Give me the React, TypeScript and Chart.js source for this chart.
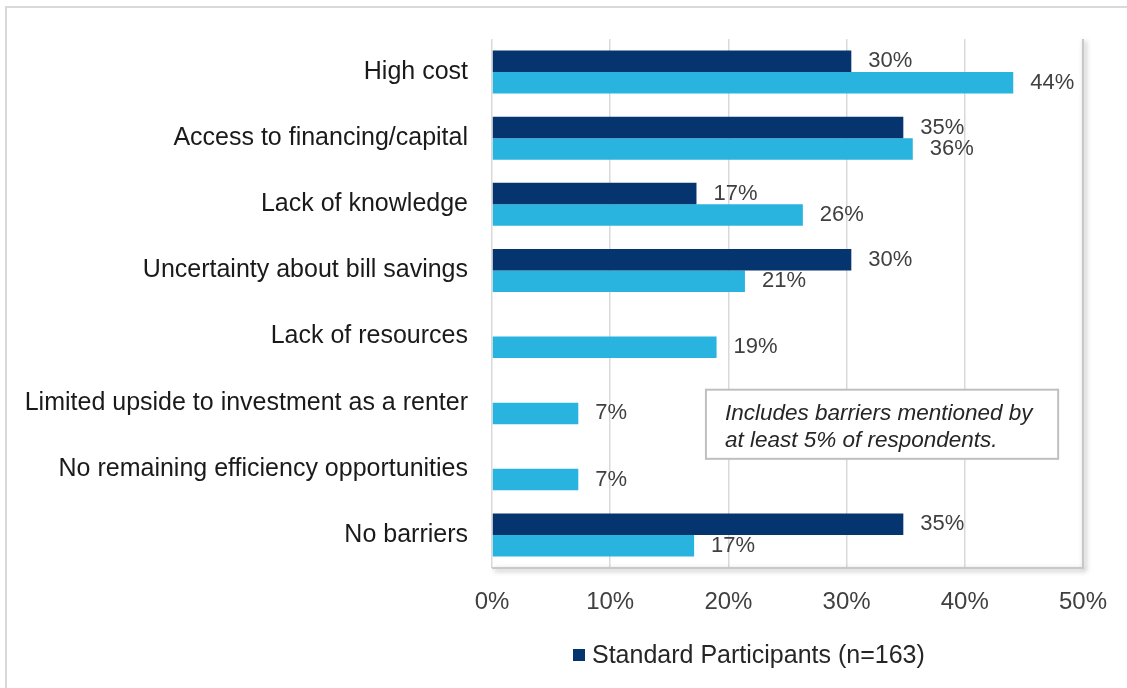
import React, { useEffect, useRef } from 'react';
import { Chart, registerables } from 'chart.js';

Chart.register(...registerables);

const categories = [
  'High cost',
  'Access to financing/capital',
  'Lack of knowledge',
  'Uncertainty about bill savings',
  'Lack of resources',
  'Limited upside to investment as a renter',
  'No remaining efficiency opportunities',
  'No barriers',
];
const standardValues: (number | null)[] = [30.4, 34.8, 17.3, 30.4, null, null, null, 34.8];
const otherValues: (number | null)[] = [44.1, 35.6, 26.3, 21.4, 19.0, 7.3, 7.3, 17.1];
const seriesNames = ['Standard Participants (n=163)', 'Other Participants'];
const seriesColors = ['#06346f', '#29b3df'];
const xMin = 0;
const xMax = 50;
const xStep = 10;
const noteLines = ['Includes barriers mentioned by', 'at least 5% of respondents.'];

const FONT = '"Liberation Sans", Arial, sans-serif';

const framePlugin = {
  id: 'frame',
  beforeDraw(chart: any) {
    const ctx = chart.ctx;
    ctx.save();
    ctx.fillStyle = '#ffffff';
    ctx.fillRect(0, 0, chart.width, chart.height);
    ctx.strokeStyle = '#d9d9d9';
    ctx.lineWidth = 2;
    ctx.strokeRect(6, 7, chart.width + 40, chart.height + 40);
    ctx.restore();
  },
  afterDraw(chart: any) {
    const { ctx, chartArea } = chart;
    ctx.save();
    ctx.strokeStyle = '#c8c8c8';
    ctx.lineWidth = 2;
    ctx.shadowColor = 'rgba(0,0,0,0.35)';
    ctx.shadowBlur = 5;
    ctx.shadowOffsetX = 2;
    ctx.shadowOffsetY = 2;
    ctx.beginPath();
    ctx.moveTo(chartArea.right, chartArea.top);
    ctx.lineTo(chartArea.right, chartArea.bottom);
    ctx.lineTo(chartArea.left, chartArea.bottom);
    ctx.stroke();
    ctx.restore();

    // note box
    const xs = chart.scales.x;
    const ys = chart.scales.y;
    const left = xs.getPixelForValue(18.1);
    const right = xs.getPixelForValue(47.9);
    const top = ys.getPixelForValue(5) - 13;
    const bottom = ys.getPixelForValue(6) - 10;
    ctx.save();
    ctx.fillStyle = '#ffffff';
    ctx.fillRect(left, top, right - left, bottom - top);
    ctx.strokeStyle = '#bfbfbf';
    ctx.lineWidth = 2;
    ctx.strokeRect(left, top, right - left, bottom - top);
    ctx.fillStyle = '#262626';
    ctx.font = 'italic 22.5px ' + FONT;
    ctx.textBaseline = 'alphabetic';
    ctx.textAlign = 'left';
    ctx.fillText(noteLines[0], left + 19, top + 30);
    ctx.fillText(noteLines[1], left + 19, top + 57);
    ctx.restore();

    // legend (only the first series is shown in the reference)
    const lx = 573;
    const ly = 655;
    ctx.save();
    ctx.fillStyle = seriesColors[0];
    ctx.fillRect(lx, ly - 6, 12, 12);
    ctx.fillStyle = '#262626';
    ctx.font = '25px ' + FONT;
    ctx.textBaseline = 'middle';
    ctx.textAlign = 'left';
    ctx.fillText(seriesNames[0], lx + 19, ly + 1);
    ctx.restore();
  },
};

const labelPlugin = {
  id: 'valueLabels',
  afterDatasetsDraw(chart: any) {
    const ctx = chart.ctx;
    ctx.save();
    ctx.font = '22px ' + FONT;
    ctx.fillStyle = '#404040';
    ctx.textBaseline = 'middle';
    ctx.textAlign = 'left';
    chart.data.datasets.forEach((ds: any, i: number) => {
      const meta = chart.getDatasetMeta(i);
      meta.data.forEach((bar: any, j: number) => {
        const v = ds.data[j];
        if (v == null) return;
        ctx.fillText(Math.round(v) + '%', bar.x + 17, bar.y);
      });
    });
    ctx.restore();
  },
};

export default function App() {
  const ref = useRef<HTMLCanvasElement | null>(null);

  useEffect(() => {
    if (!ref.current) return;
    const chart = new Chart(ref.current, {
      type: 'bar',
      data: {
        labels: categories,
        datasets: [
          {
            label: seriesNames[0],
            data: standardValues,
            backgroundColor: seriesColors[0],
            categoryPercentage: 0.65,
            barPercentage: 1,
          },
          {
            label: seriesNames[1],
            data: otherValues,
            backgroundColor: seriesColors[1],
            categoryPercentage: 0.65,
            barPercentage: 1,
          },
        ],
      },
      options: {
        indexAxis: 'y',
        responsive: false,
        animation: false,
        layout: { padding: { top: 36, right: 44, left: 0, bottom: 0 } },
        plugins: {
          tooltip: { enabled: false },
          legend: { display: false },
        },
        scales: {
          x: {
            min: xMin,
            max: xMax,
            ticks: {
              stepSize: xStep,
              callback: (v: any) => v + '%',
              font: { size: 24, family: FONT },
              color: '#404040',
              padding: 20,
            },
            grid: { color: '#d9d9d9', lineWidth: 1.5, drawTicks: false },
            border: { display: false },
            afterFit: (scale: any) => {
              scale.height = 688 - 568;
            },
          },
          y: {
            ticks: {
              font: { size: 25, family: FONT },
              color: '#1a1a1a',
              padding: 24,
            },
            grid: { display: false, drawTicks: false },
            border: { display: false },
            afterFit: (scale: any) => {
              scale.width = 492;
            },
          },
        },
      },
      plugins: [framePlugin, labelPlugin],
    });
    return () => chart.destroy();
  }, []);

  return (
    <div style={{ position: 'fixed', left: 0, top: 0, width: 1127, height: 688, background: '#fff' }}>
      <canvas ref={ref} width={1127} height={688} />
    </div>
  );
}
